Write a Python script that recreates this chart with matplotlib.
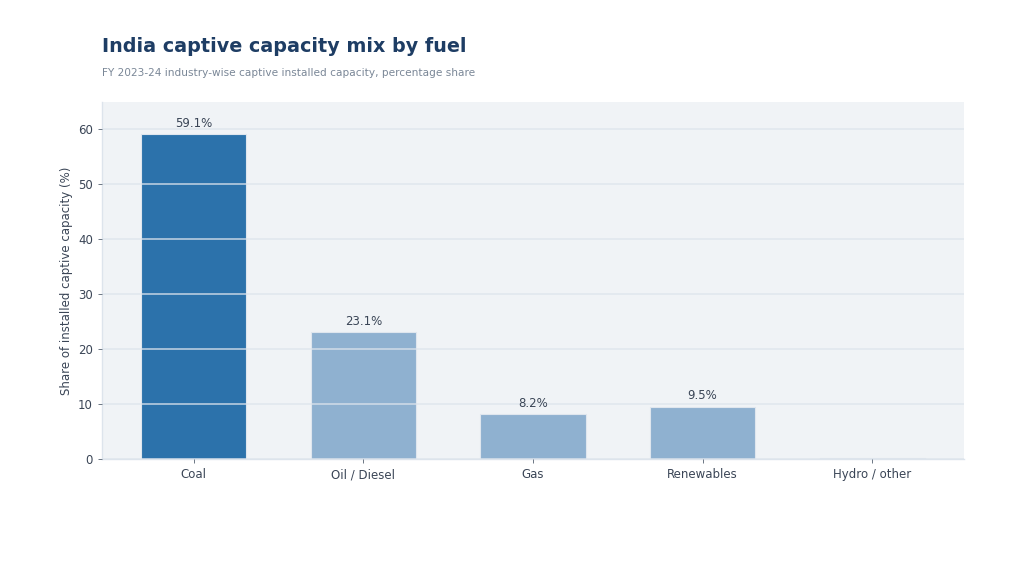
import matplotlib
matplotlib.use('Agg')
import matplotlib.pyplot as plt

# Данные
fuels = ['Coal', 'Oil / Diesel', 'Gas', 'Renewables', 'Hydro / other']
shares = [59.1, 23.1, 8.2, 9.5, 0.1]
highlight = 'Coal'

fig = plt.figure(figsize=(10.24, 5.66), dpi=100)
ax = fig.add_axes([0.0996, 0.189, 0.8418, 0.6308])
ax.set_facecolor('#f0f3f6')

colors = ['#2c72ab' if f == highlight else '#8fb1d0' for f in fuels]
bars = ax.bar(fuels, shares, width=0.62, color=colors, edgecolor='#dfe6ee', linewidth=0.8, zorder=2)

# подписи значений (крошечную долю не подписываем)
for b, v in zip(bars, shares):
    if v >= 1:
        ax.text(b.get_x() + b.get_width() / 2, v + 0.8, f'{v:.1f}%',
                ha='center', va='bottom', fontsize=8.5, color='#3a4556', zorder=4)

ax.set_ylim(0, 65)
ax.set_yticks([0, 10, 20, 30, 40, 50, 60])
ax.yaxis.grid(True, color='#dde4ec', linewidth=1.2, alpha=0.8, zorder=3)
ax.set_axisbelow(False)
ax.xaxis.grid(False)

for s in ['top', 'right']:
    ax.spines[s].set_visible(False)
for s in ['left', 'bottom']:
    ax.spines[s].set_color('#dde4ec')
    ax.spines[s].set_linewidth(1.0)

ax.tick_params(axis='both', colors='#3a4556', labelsize=8.5, length=3, width=0.7)
ax.tick_params(axis='both', color='#6b7684')
ax.set_ylabel('Share of installed captive capacity (%)', fontsize=8.5, color='#3a4556')

fig.text(0.0996, 0.917, 'India captive capacity mix by fuel', fontsize=13.8, fontweight='bold',
         color='#1e3d64', ha='left', va='center')
fig.text(0.0996, 0.871, 'FY 2023-24 industry-wise captive installed capacity, percentage share',
         fontsize=7.6, color='#7a8797', ha='left', va='center')

fig.savefig('out.png', dpi=100, facecolor='white')
